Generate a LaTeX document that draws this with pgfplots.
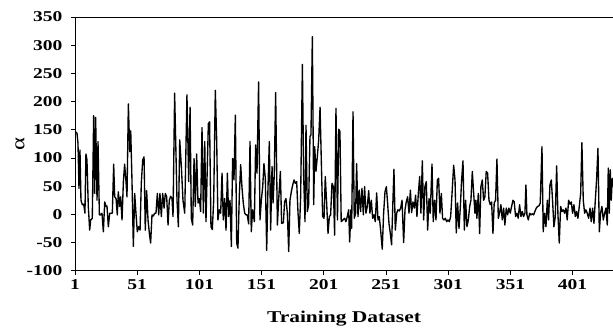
\documentclass[border=0pt]{standalone}
\usepackage{fontspec}
\setmainfont{Liberation Serif}[FakeStretch=1.3]
\usepackage{pgfplots}
\pgfplotsset{compat=1.18}
\begin{document}
\begin{tikzpicture}
\begin{axis}[
  name=ax, at={(0,0)}, anchor=south west,
  scale only axis, width=538pt, height=253.7pt,
  xmin=1, xmax=433.5, ymin=-100, ymax=350,
  axis x line*=bottom, axis y line*=left,
  axis line style={line width=0.8pt, black},
  clip mode=individual,
  xtick={1,51,...,401}, xticklabels={1,51,101,151,201,251,301,351,401},
  ytick={-100,-50,...,350}, yticklabels={-100,-50,0,50,100,150,200,250,300,350},
  tick align=outside, major tick length=4pt,
  tick style={line width=0.8pt, black},
  ticklabel style={font=\fontsize{15}{15}\selectfont\bfseries},
  yticklabel style={xshift=-5pt},
  xticklabel style={yshift=-1pt},
  xlabel={Training Dataset},
  ylabel={α},
  every axis x label/.style={at={(rel axis cs:0.5,0)}, anchor=base, yshift=-52pt, font=\fontsize{16.5}{16.5}\selectfont\bfseries},
  every axis y label/.style={at={([xshift=-55pt]rel axis cs:0,0.5)}, anchor=center, rotate=90, font=\fontsize{19}{19}\selectfont},
]
\addplot[black, line width=1.35pt, line join=round, mark=none] coordinates {
(1,147) (2.6,144) (3.4,126) (4.2,46) (5.0,114) (5.8,25) (6.9,17) (8.0,18) (9.0,2) (9.8,107) (10.6,97) (11.7,14) (12.8,-28) (13.6,-10) (14.9,-7) (16.0,175) (16.8,37) (17.6,172) (18.7,25) (19.5,129) (20.6,-1) (21.6,-1) (22.7,2) (23.8,-31) (24.9,22) (25.9,14) (26.7,15) (27.8,-22) (28.9,2) (29.9,2) (31.0,2) (32.1,89) (32.9,31) (34.0,28) (35.0,-1) (35.8,40) (36.9,14) (37.7,31) (38.8,-10) (39.9,58) (40.9,89) (42.0,58) (42.8,31) (43.9,196) (45.0,111) (45.8,148) (46.8,61) (47.9,-57) (49.0,37) (50.0,2) (51.1,-31) (52.2,-22) (53.3,-28) (54.3,55) (55.4,96) (56.5,102) (57.5,-28) (58.6,42) (59.7,-10) (60.8,-34) (61.8,-51) (62.9,-1) (64.0,-3) (65.1,2) (66.1,2) (67.2,37) (68.3,-1) (69.3,37) (70.4,-4) (71.5,37) (72.6,11) (73.6,37) (74.7,31) (75.8,-19) (76.8,25) (77.9,32) (79.0,28) (79.8,-4) (81.1,215) (83.0,25) (84.1,-22) (85.2,132) (86.5,85) (87.8,25) (89.2,2) (91.0,212) (92.4,58) (93.5,190) (94.5,-7) (95.6,-19) (96.7,99) (97.7,14) (98.8,107) (99.9,20) (101.0,28) (102.0,5) (103.1,154) (104.2,2) (105.3,129) (106.3,-13)
(108.2,161) (109.2,164) (110.3,-22) (111.4,-27) (112.5,25) (113.8,220) (114.9,132) (115.9,-10) (117.0,8) (118.1,2) (119.2,73) (120.2,-10) (121.3,28) (122.4,-28) (123.5,73) (124.5,-4) (125.6,25) (126.7,-57) (127.7,99) (128.8,61) (129.9,176) (131.0,-51) (132.0,-60) (133.1,34) (134.2,88) (135.2,49) (136.3,20) (137.4,2) (138.5,-1) (139.5,-1) (140.6,-17) (141.7,129) (142.7,-31) (143.8,8) (145.2,-13) (146.2,123) (147.3,73) (148.6,235) (149.7,-10) (150.8,25) (151.9,49) (152.9,90) (154.0,64) (155.1,-64) (156.1,43) (157.2,129) (158.3,-28) (159.4,85) (160.2,20) (161.2,70) (162.3,216) (163.7,-19) (164.7,25) (166.1,76) (167.1,-16) (168.5,-15) (169.5,22) (170.6,28) (171.7,2) (172.8,-66) (173.8,25) (174.9,40) (176.0,52) (177.1,61) (178.1,55) (179.2,58) (180.3,2) (181.3,-34) (182.4,31) (183.8,266) (184.8,70) (185.9,-13) (186.7,158) (187.8,5) (188.8,17) (189.9,138) (190.7,141) (191.8,315) (192.9,17) (193.7,120) (194.7,76) (195.8,102) (196.9,132) (198.0,190) (199.0,96) (200.1,-4) (201.2,-7) (202.2,67) (203.3,20) (204.4,-34) (205.5,-4) (206.5,-1) (207.6,55) (208.7,49) (209.7,-37) (210.8,188)
(212,-10) (213,151) (214,147) (215,-13) (217.8,-7) (218.8,-13) (219.9,-4) (221.0,8) (221.8,-49) (222.8,8) (223.4,-25) (224.5,182) (225.5,-7) (226.6,2) (227.4,90) (228.5,-4) (229.5,43) (230.6,5) (231.7,46) (232.8,-1) (233.8,49) (234.9,2) (236.0,14) (237.1,42) (238.1,2) (239.2,25) (240.3,-7) (241.3,-1) (242.4,-13) (243.5,38) (244.6,-10) (245.6,-4) (246.7,-28) (248.0,-62) (249.1,2) (250.2,40) (251.3,49) (252.3,20) (253.4,-16) (254.5,-34) (255.5,-54) (256.6,25) (257.4,80) (258.5,-28) (259.6,2) (260.6,8) (261.7,6) (262.8,11) (263.9,25) (265.2,-50) (266.3,8) (267.3,22) (268.4,31) (269.5,2) (270.6,43) (271.6,3) (272.7,22) (273.8,11) (274.8,34) (275.9,-4) (277.0,37) (278.1,67) (279.1,2) (280.2,95) (281.3,-10) (282.3,49) (283.4,58) (284.5,-28) (285.6,28) (286.6,2) (288.0,89) (289.0,-13) (290.1,25) (291.2,-10) (292.3,61) (293.3,64) (294.4,2) (295.5,37) (296.5,-7) (297.6,-10) (298.7,-7) (299.8,-13) (300.8,-10) (301.9,-13) (303.0,-4) (304.1,37) (305.4,87) (306.5,61) (307.5,-33) (308.6,20) (309.7,-25) (310.8,14) (311.8,61) (312.9,95) (314.0,-28) (315.0,25) (316.1,-22) (317.2,-10) (318.3,14) (319.3,25) (320.4,76)
(322.5,2) (323.3,25) (324.1,-7) (325.2,37) (326.3,-34) (327.3,49) (328.4,61) (329.5,25) (330.5,31) (331.6,76) (332.7,73) (333.8,25) (334.8,17) (335.9,22) (337.0,-34) (338.0,20) (339.1,25) (340.2,98) (341.3,-7) (342.3,2) (343.4,17) (344.5,-10) (345.6,11) (346.6,-19) (347.7,11) (348.8,-1) (349.8,11) (350.9,2) (352.0,14) (353.1,25) (354.1,22) (355.2,-4) (356.3,2) (357.3,-7) (358.4,17) (359.5,-4) (360.6,5) (361.6,-4) (362.7,2) (363.5,52) (364.3,-1) (365.4,-10) (366.5,2) (367.5,-1) (368.6,1) (369.7,-1) (370.7,5) (371.8,11) (372.9,14) (374.0,15) (375.0,20) (376.4,120) (377.4,-31) (378.5,2) (379.6,-22) (380.7,25) (381.7,-10) (382.8,52) (383.9,61) (384.9,25) (386.0,-22) (387.1,-4) (388.2,86) (389.2,2) (390.3,-51) (391.4,14) (392.5,5) (393.5,8) (394.6,2) (395.7,11) (396.7,-10) (397.8,25) (398.9,18) (400.0,22) (401.0,2) (402.1,17) (403.2,-4) (404.2,5) (405.3,-7) (406.4,14) (407.5,37) (408.5,127) (409.6,25) (410.7,2) (411.7,8) (412.8,2) (413.9,-7) (415.0,11) (416.0,-13) (417.1,11) (418.2,-16) (419.2,22) (420.3,61) (421.4,117) (422.5,-31) (423.5,2) (424.6,14) (425.7,-10) (426.8,2) (427.8,11) (428.9,-19) (429.7,82) (430.5,2) (431.3,79) (432.1,25) (432.9,64) (433.5,49)
};
\draw[line width=0.8pt, black] (rel axis cs:0,1) -- (rel axis cs:1,1);
\end{axis}
\pgfresetboundingbox
\path (-75pt,-60.3pt) rectangle (538pt,270.7pt);
\end{tikzpicture}
\end{document}
